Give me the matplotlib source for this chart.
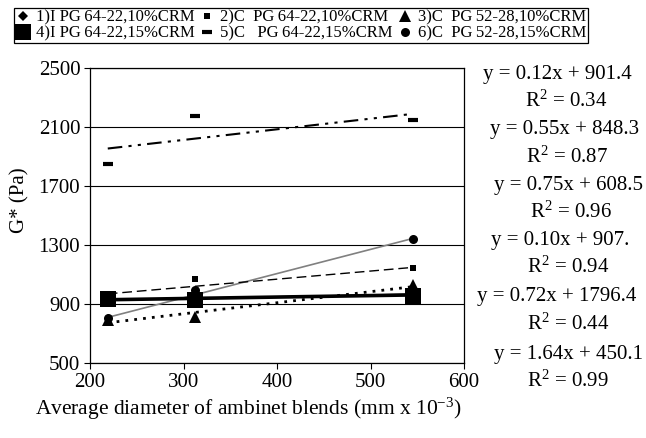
import numpy as np
import matplotlib
matplotlib.use('Agg')
import matplotlib.pyplot as plt

plt.rcParams['font.family'] = ['Liberation Serif', 'DejaVu Serif']
plt.rcParams['mathtext.fontset'] = 'custom'
plt.rcParams['mathtext.rm'] = 'Liberation Serif'
plt.rcParams['mathtext.default'] = 'regular'

# average diameter (mm x 10^-3)
x_diam = [219, 312, 545]

# G* (Pa) for each blend
labels = ['1)I PG\u200964-22,10%CRM', '2)C  PG\u200964-22,10%CRM', '3)C  PG\u200952-28,10%CRM',
          '4)I PG\u200964-22,15%CRM', '5)C   PG\u200964-22,15%CRM', '6)C  PG\u200952-28,15%CRM']
g_1 = [925, 935, 966]
g_2 = [960, 1067, 1146]
g_3 = [790, 814, 1029]
g_4 = [932, 927, 957]
g_5 = [1849, 2177, 2150]
g_6 = [805, 995, 1343]
g_all = [g_1, g_2, g_3, g_4, g_5, g_6]

# trendlines as printed on the chart
slopes = [0.12, 0.55, 0.75, 0.10, 0.72, 1.64]
intercepts = [901.4, 848.3, 608.5, 907.0, 1796.4, 450.1]
eq_text = ['y = 0.12x + 901.4', 'y = 0.55x + 848.3', 'y = 0.75x + 608.5',
           'y = 0.10x + 907.', 'y = 0.72x + 1796.4', 'y = 1.64x + 450.1']
r2_text = ['0.34', '0.87', '0.96', '0.94', '0.44', '0.99']

markers = ['D', 's', '^', 's', '_', 'o']
msizes = [5, 4.5, 8, 11, 7, 6.5]
line_styles = ['-', (0, (7, 3.5)), (0, (1, 2.2)), '-', (0, (7, 3, 1.5, 3, 1.5, 3)), '-']
line_widths = [1.0, 1.0, 2.0, 2.6, 1.5, 1.2]
line_colors = ['k', 'k', 'k', 'k', 'k', '#808080']

fig = plt.figure(figsize=(6.46, 4.38), dpi=100)
ax = fig.add_axes([90/646, 1-363/438, 374/646, 295/438])

xs = np.array([min(x_diam), max(x_diam)])
draw_order = [5, 1, 2, 4, 0, 3]
for i in draw_order:
    ax.plot(xs, slopes[i]*xs + intercepts[i], color=line_colors[i],
            linestyle=line_styles[i], linewidth=line_widths[i], zorder=2)

handles = []
for i in range(6):
    mew = 3 if markers[i] == '_' else 0
    h, = ax.plot(x_diam, g_all[i], linestyle='none', marker=markers[i],
                 markersize=msizes[i], color='k', markeredgewidth=mew,
                 zorder=3, label=labels[i])
    handles.append(h)

ax.set_xlim(200, 600)
ax.set_ylim(500, 2500)
ax.set_xticks(range(200, 601, 100))
ax.set_yticks(range(500, 2501, 400))
ax.yaxis.grid(True, color='k', linewidth=0.8)
ax.set_axisbelow(True)
ax.tick_params(direction='out', length=4, labelsize=15, color='k', pad=3)
for s in ax.spines.values():
    s.set_linewidth(0.9)

fig.text(20/646, 1-200/438, 'G* (Pa)', rotation=90, fontsize=15,
         ha='center', va='center')
fig.text(248/646, 1-409/438,
         'Average diameter of ambinet blends (mm x 10$^{-3}$)',
         fontsize=15.5, ha='center', va='center')

# equations on the right
eq_pos = [(557, 75), (565, 130), (568, 185), (560, 240), (557, 297), (568, 354)]
r2_pos = [(566, 101), (567, 157), (571, 212), (568, 267), (568, 324), (568, 381)]
for i in range(6):
    fig.text(eq_pos[i][0]/646, 1-eq_pos[i][1]/438, eq_text[i], fontsize=15,
             ha='center', va='center')
    fig.text(r2_pos[i][0]/646, 1-r2_pos[i][1]/438, 'R$^{2}$ = ' + r2_text[i],
             fontsize=15, ha='center', va='center')

order = [0, 3, 1, 4, 2, 5]
leg = fig.legend([handles[k] for k in order], [labels[k] for k in order],
                 ncol=3, loc='center', mode='expand',
                 bbox_to_anchor=(14/646, 1-46/438, 574/646, 41/438),
                 fontsize=12, frameon=True, fancybox=False, edgecolor='k',
                 framealpha=1, borderpad=0.1, labelspacing=0.0,
                 handletextpad=0.3, handlelength=0.9, columnspacing=1.0,
                 borderaxespad=0)
leg.get_frame().set_linewidth(0.9)

fig.savefig('out.png', dpi=100)
